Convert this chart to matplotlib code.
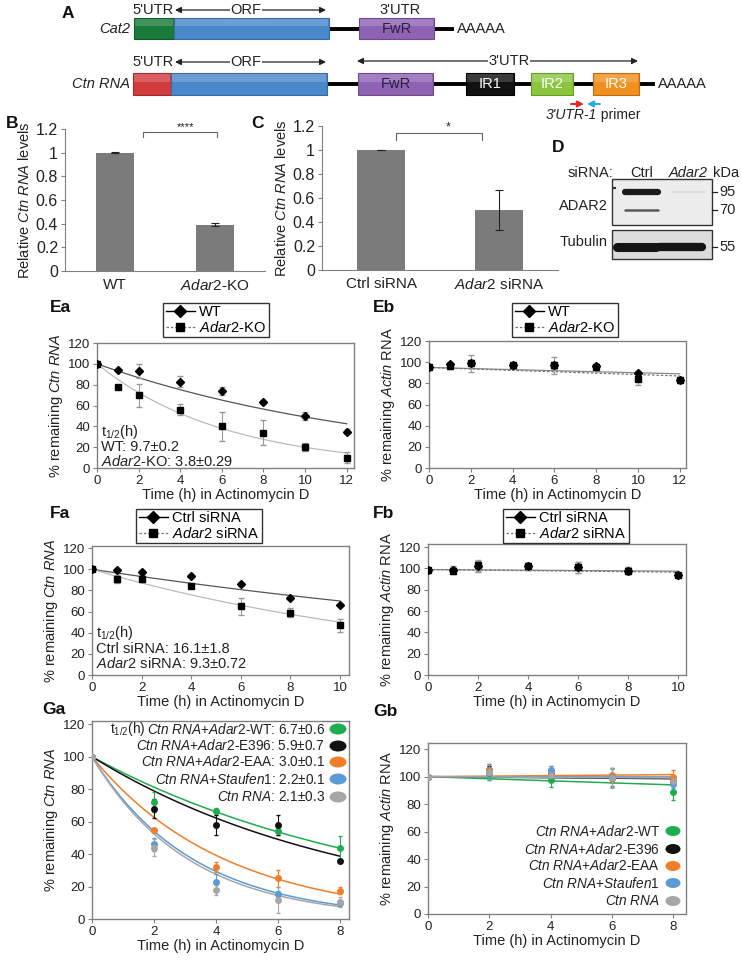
import numpy as np
import matplotlib
matplotlib.use("Agg")
import matplotlib.pyplot as plt
from matplotlib.patches import Rectangle, Ellipse
from matplotlib.lines import Line2D

plt.rcParams['font.family'] = ['Liberation Sans', 'DejaVu Sans']
plt.rcParams['mathtext.fontset'] = 'custom'
plt.rcParams['mathtext.rm'] = 'Liberation Sans'
plt.rcParams['mathtext.it'] = 'Liberation Sans:italic'
plt.rcParams['mathtext.bf'] = 'Liberation Sans:bold'

# ---- data ----
b_labels = ['WT', r'$\it{Adar2}$-KO']
b_vals = [1.0, 0.39]
b_err = [0.005, 0.012]
c_labels = ['Ctrl siRNA', r'$\it{Adar2}$ siRNA']
c_vals = [1.0, 0.50]
c_err = [0.003, 0.17]

t_e = [0, 1, 2, 4, 6, 8, 10, 12]
ea_wt = [100, 94, 93, 83, 74, 63, 50, 35]
ea_wt_err = [0, 1.5, 7, 5, 4, 1.5, 4, 2]
ea_ko = [100, 78, 70, 56, 40, 34, 20, 10]
ea_ko_err = [0, 1, 11, 5, 14, 12, 4, 5]
ea_fit = {'wt': (100, 42.5), 'ko': (100, 14.4)}

eb_wt = [95, 98, 99, 97, 97, 96, 90, 83]
eb_wt_err = [0, 2, 3, 2, 3, 2, 2, 2]
eb_ko = [95, 96, 99, 97, 97, 95, 84, 83]
eb_ko_err = [0, 2, 8, 2, 8, 3, 6, 3]
eb_fit = {'wt': (95, 89), 'ko': (95, 87)}

t_f = [0, 1, 2, 4, 6, 8, 10]
fa_ctrl = [100, 99, 97, 94, 86, 73, 66]
fa_ctrl_err = [0, 1, 2, 1, 1.5, 1.5, 1]
fa_kd = [100, 91, 91, 84, 65, 59, 47]
fa_kd_err = [0, 4, 3, 2, 8, 4, 6]
fa_fit = {'ctrl': (100, 70), 'kd': (100, 50)}

fb_ctrl = [99, 99, 102, 102, 101, 98, 94]
fb_ctrl_err = [0, 3, 5, 3, 5, 3, 2]
fb_kd = [99, 98, 103, 102, 101, 98, 94]
fb_kd_err = [0, 3, 5, 3, 5, 3, 2]
fb_fit = {'ctrl': (99, 97.5), 'kd': (99, 96.5)}

t_g = [0, 2, 4, 6, 8]
g_names = ['wt', 'e396', 'eaa', 'stau', 'ctn']
g_colors = {'wt': '#1fae4f', 'e396': '#111111', 'eaa': '#f07d2a', 'stau': '#5b9bd5', 'ctn': '#a6a6a6'}
ga_vals = {'wt': [100, 72, 66.5, 54, 44], 'e396': [100, 68, 58, 58, 36],
           'eaa': [100, 55, 32, 25, 17.5], 'stau': [100, 46, 23, 15.5, 10],
           'ctn': [100, 44, 18, 12, 10.5]}
ga_err = {'wt': [0, 6, 2, 2, 7], 'e396': [0, 6, 6, 6, 1], 'eaa': [0, 1, 3, 5, 2],
          'stau': [0, 4, 5, 2, 2], 'ctn': [0, 5, 3, 8, 3]}
ga_fit_end = {'wt': 43.6, 'e396': 38.7, 'eaa': 15.4, 'stau': 8.6, 'ctn': 7.6}
ga_legend = [r'$\it{Ctn\ RNA}$+$\it{Adar2}$-WT: 6.7±0.6',
             r'$\it{Ctn\ RNA}$+$\it{Adar2}$-E396: 5.9±0.7',
             r'$\it{Ctn\ RNA}$+$\it{Adar2}$-EAA: 3.0±0.1',
             r'$\it{Ctn\ RNA}$+$\it{Staufen1}$: 2.2±0.1',
             r'$\it{Ctn\ RNA}$: 2.1±0.3']
gb_vals = {'wt': [100, 102.5, 97.5, 99.5, 89], 'e396': [100, 105, 102, 99, 97],
           'eaa': [100, 105, 104, 101, 99.5], 'stau': [100, 103.5, 105, 99.5, 95],
           'ctn': [100, 103.5, 101, 99, 97]}
gb_err = {'wt': [0, 5, 5, 6, 6], 'e396': [0, 3, 3, 3, 2], 'eaa': [0, 4, 4, 5, 5],
          'stau': [0, 6, 3, 7, 3], 'ctn': [0, 3, 3, 7, 3]}
gb_fit_end = {'wt': 94, 'e396': 98.5, 'eaa': 101.5, 'stau': 99.8, 'ctn': 99}
gb_legend = [r'$\it{Ctn\ RNA}$+$\it{Adar2}$-WT', r'$\it{Ctn\ RNA}$+$\it{Adar2}$-E396',
             r'$\it{Ctn\ RNA}$+$\it{Adar2}$-EAA', r'$\it{Ctn\ RNA}$+$\it{Staufen1}$',
             r'$\it{Ctn\ RNA}$']

W, H = 742, 960
fig = plt.figure(figsize=(W / 100, H / 100), dpi=100)
TXT = '#222222'
SP = '#808080'


def px_axes(l, t, r, b):
    return fig.add_axes([l / W, 1 - b / H, (r - l) / W, (b - t) / H])


def fit_curve(ax, tmax, start, end, **kw):
    tt = np.linspace(0, tmax, 120)
    ax.plot(tt, start * (end / start) ** (tt / tmax), **kw)


def style_decay(ax, xlim, xticks, ytop, ylabel):
    ax.set_xlim(0, xlim)
    ax.set_ylim(0, ytop)
    ax.set_xticks(xticks)
    ax.set_yticks(range(0, 121, 20))
    for s in ax.spines.values():
        s.set_color(SP)
        s.set_linewidth(1)
    ax.tick_params(direction='out', length=3, width=0.8, color=SP,
                   labelsize=9.5, labelcolor=TXT, pad=2)
    ax.set_xlabel('Time (h) in Actinomycin D', fontsize=10.5, color=TXT, labelpad=1)
    ax.set_ylabel(ylabel, fontsize=10.5, color=TXT, labelpad=2)


# ---- B ----
axB = px_axes(65, 129, 265, 271)
axC = px_axes(322, 126, 558, 270)
for ax, vals, errs, labs, w in [(axB, b_vals, b_err, b_labels, 0.38),
                                (axC, c_vals, c_err, c_labels, 0.40)]:
    x = np.arange(len(vals))
    ax.bar(x, vals, width=w, color='#7b7b7b', zorder=2)
    ax.errorbar(x, vals, yerr=errs, fmt='none', ecolor='#222', elinewidth=0.8,
                capsize=3, capthick=0.8, zorder=3)
    ax.set_xlim(-0.5, 1.5)
    ax.set_ylim(0, 1.2)
    ax.set_yticks([0, 0.2, 0.4, 0.6, 0.8, 1.0, 1.2])
    ax.set_yticklabels(['0', '0.2', '0.4', '0.6', '0.8', '1', '1.2'])
    ax.set_xticks(x)
    ax.set_xticklabels(labs)
    ax.spines['top'].set_visible(False)
    ax.spines['right'].set_visible(False)
    ax.spines['left'].set_color(SP)
    ax.spines['bottom'].set_color(SP)
    ax.tick_params(axis='y', direction='out', length=3, color=SP, labelsize=11.5,
                   labelcolor=TXT, pad=2)
    ax.tick_params(axis='x', length=0, labelsize=11, labelcolor=TXT, pad=5)
    ax.set_ylabel(r'Relative $\it{Ctn\ RNA}$ levels', fontsize=10.5, color=TXT, labelpad=3)

# ---- Ea ----
axEa = px_axes(97, 343, 354, 468)
style_decay(axEa, 12.35, range(0, 13, 2), 120, r'% remaining $\it{Ctn\ RNA}$')
fit_curve(axEa, 12, *ea_fit['wt'], color='#555555', lw=0.9, zorder=1)
fit_curve(axEa, 12, *ea_fit['ko'], color='#bbbbbb', lw=0.9, zorder=1)
axEa.errorbar(t_e, ea_wt, yerr=ea_wt_err, fmt='D', color='black', ms=4.5,
              ecolor='#999999', elinewidth=0.8, capsize=2, zorder=3)
axEa.errorbar(t_e, ea_ko, yerr=ea_ko_err, fmt='s', color='black', ms=4.5,
              ecolor='#999999', elinewidth=0.8, capsize=2, zorder=3)

# ---- Eb ----
axEb = px_axes(429, 341, 686, 468)
style_decay(axEb, 12.3, range(0, 13, 2), 120, r'% remaining $\it{Actin}$ RNA')
fit_curve(axEb, 12, *eb_fit['wt'], color='#888888', lw=0.9, zorder=1)
fit_curve(axEb, 12, *eb_fit['ko'], color='#777777', lw=0.9, ls=(0, (2, 1.5)), zorder=1)
axEb.errorbar(t_e, eb_wt, yerr=eb_wt_err, fmt='D', color='black', ms=4.5,
              ecolor='#999999', elinewidth=0.8, capsize=2, zorder=3)
axEb.errorbar(t_e, eb_ko, yerr=eb_ko_err, fmt='s', color='black', ms=4.5,
              ecolor='#999999', elinewidth=0.8, capsize=2, zorder=3)

# ---- Fa ----
axFa = px_axes(92, 546, 349, 675)
style_decay(axFa, 10.36, range(0, 11, 2), 122, r'% remaining $\it{Ctn\ RNA}$')
fit_curve(axFa, 10, *fa_fit['ctrl'], color='#555555', lw=0.9, zorder=1)
fit_curve(axFa, 10, *fa_fit['kd'], color='#bbbbbb', lw=0.9, zorder=1)
axFa.errorbar(t_f, fa_ctrl, yerr=fa_ctrl_err, fmt='D', color='black', ms=4.5,
              ecolor='#999999', elinewidth=0.8, capsize=2, zorder=3)
axFa.errorbar(t_f, fa_kd, yerr=fa_kd_err, fmt='s', color='black', ms=4.5,
              ecolor='#999999', elinewidth=0.8, capsize=2, zorder=3)

# ---- Fb ----
axFb = px_axes(428, 544, 686, 675)
style_decay(axFb, 10.3, range(0, 11, 2), 123, r'% remaining $\it{Actin}$ RNA')
fit_curve(axFb, 10, *fb_fit['ctrl'], color='#888888', lw=0.9, zorder=1)
fit_curve(axFb, 10, *fb_fit['kd'], color='#777777', lw=0.9, ls=(0, (2, 1.5)), zorder=1)
axFb.errorbar(t_f, fb_ctrl, yerr=fb_ctrl_err, fmt='D', color='black', ms=4.5,
              ecolor='#999999', elinewidth=0.8, capsize=2, zorder=3)
axFb.errorbar(t_f, fb_kd, yerr=fb_kd_err, fmt='s', color='black', ms=4.5,
              ecolor='#999999', elinewidth=0.8, capsize=2, zorder=3)

# ---- Ga / Gb ----
axGa = px_axes(92, 721, 349, 919)
style_decay(axGa, 8.29, range(0, 9, 2), 122, r'% remaining $\it{Ctn\ RNA}$')
axGb = px_axes(428, 743, 686, 914)
style_decay(axGb, 8.42, range(0, 9, 2), 124.5, r'% remaining $\it{Actin}$ RNA')
for k in g_names:
    c = g_colors[k]
    fit_curve(axGa, 8, 100, ga_fit_end[k], color=c, lw=1.1, zorder=1)
    axGa.errorbar(t_g, ga_vals[k], yerr=ga_err[k], fmt='o', color=c, ms=4,
                  elinewidth=0.8, capsize=1.5, zorder=3)
    fit_curve(axGb, 8, 100, gb_fit_end[k], color=c, lw=1.1, zorder=1)
    axGb.errorbar(t_g, gb_vals[k], yerr=gb_err[k], fmt='o', color=c, ms=4,
                  elinewidth=0.8, capsize=1.5, zorder=3)

# ---- legends E/F ----
def two_legend(lab1, lab2, cx, cy, dashed):
    h1 = Line2D([], [], color='black', marker='D', ms=6, lw=1)
    h2 = Line2D([], [], color='#777777', ls=(0, (2, 1.5)) if True else '-', marker='s',
                mfc='black', mec='black', ms=5.5, lw=0.9)
    lg = fig.legend([h1, h2], [lab1, lab2], loc='center',
                    bbox_to_anchor=(cx / W, 1 - cy / H), fontsize=10.5,
                    frameon=True, fancybox=False, edgecolor='black', borderpad=0.15,
                    handlelength=2.0, handletextpad=0.3, labelspacing=0.05,
                    borderaxespad=0)
    lg.get_frame().set_linewidth(1.0)


two_legend('WT', r'$\it{Adar2}$-KO', 216, 320, False)
two_legend('WT', r'$\it{Adar2}$-KO', 565, 320, True)
two_legend('Ctrl siRNA', r'$\it{Adar2}$ siRNA', 199, 526, False)
two_legend('Ctrl siRNA', r'$\it{Adar2}$ siRNA', 566, 526, True)

# ---- overlay (pixel coords) ----
ov = fig.add_axes([0, 0, 1, 1])
ov.set_xlim(0, W)
ov.set_ylim(H, 0)
ov.axis('off')

# panel letters
for s, x, y in [('A', 62, 13), ('B', 6, 123), ('C', 251, 123), ('D', 552, 147),
                ('Ea', 50, 308), ('Eb', 373, 308), ('Fa', 50, 513), ('Fb', 373, 513),
                ('Ga', 42, 710), ('Gb', 373, 712)]:
    ov.text(x, y, s, fontsize=12.5, fontweight='bold', va='center', ha='left', color='#111')


def gene_box(x0, x1, y0, y1, fc, ec, label=None, tc='white'):
    ov.add_patch(Rectangle((x0, y0), x1 - x0, y1 - y0, facecolor=fc, edgecolor=ec, lw=0.8, zorder=3))
    ov.add_patch(Rectangle((x0 + 1, y0 + 1), x1 - x0 - 2, (y1 - y0) * 0.35,
                           facecolor='white', alpha=0.18, lw=0, zorder=4))
    if label:
        ov.text((x0 + x1) / 2, (y0 + y1) / 2 + 0.5, label, ha='center', va='center',
                fontsize=10.5, color=tc, zorder=5)


def dbl_arrow(x0, x1, y, label, cx):
    ov.annotate('', xy=(x1, y), xytext=(x0, y),
                arrowprops=dict(arrowstyle='<|-|>', lw=0.9, color='#222',
                                mutation_scale=9, shrinkA=0, shrinkB=0))
    ov.text(cx, y, label, ha='center', va='center', fontsize=10.5, color='#222',
            bbox=dict(facecolor='white', edgecolor='none', pad=0.5))


# Cat2 row
ov.plot([329, 452], [29, 29], color='black', lw=2.8, zorder=2)
gene_box(134, 174, 18, 39, '#1a7a3a', '#125a2a')
gene_box(174, 329, 18, 39, '#4a88cc', '#3a6aa0')
gene_box(359, 434, 18, 39, '#8e63b4', '#6c4a8c', 'FwR', '#2b1f3e')
ov.text(457, 29, 'AAAAA', ha='left', va='center', fontsize=10.5, color='#222')
ov.text(130, 29, 'Cat2', ha='right', va='center', fontsize=10.5, style='italic', color='#222')
ov.text(153, 10, "5'UTR", ha='center', va='center', fontsize=10.5, color='#222')
dbl_arrow(175, 326, 10, 'ORF', 246)
ov.text(400, 10, "3'UTR", ha='center', va='center', fontsize=10.5, color='#222')

# Ctn RNA row
ov.plot([326, 653], [84, 84], color='black', lw=2.8, zorder=2)
gene_box(133, 171, 73, 95, '#d23a3c', '#a02a2c')
gene_box(171, 327, 73, 95, '#4a88cc', '#3a6aa0')
gene_box(358, 433, 73, 95, '#8e63b4', '#6c4a8c', 'FwR', '#2b1f3e')
gene_box(466, 514, 73, 95, '#111111', '#000000', 'IR1', 'white')
gene_box(531, 573, 73, 95, '#8cc63f', '#6a9a2a', 'IR2', 'white')
gene_box(593, 639, 73, 95, '#f0901e', '#c06a10', 'IR3', 'white')
ov.text(658, 84, 'AAAAA', ha='left', va='center', fontsize=10.5, color='#222')
ov.text(130, 84, 'Ctn RNA', ha='right', va='center', fontsize=10.5, style='italic', color='#222')
ov.text(153, 62, "5'UTR", ha='center', va='center', fontsize=10.5, color='#222')
dbl_arrow(175, 326, 62, 'ORF', 246)
dbl_arrow(357, 638, 61, "3'UTR", 509)

# primer arrows
ov.annotate('', xy=(584, 104), xytext=(571, 104),
            arrowprops=dict(arrowstyle='-|>', lw=1.4, color='#e8262a', mutation_scale=9,
                            shrinkA=0, shrinkB=0))
ov.annotate('', xy=(587, 104), xytext=(600, 104),
            arrowprops=dict(arrowstyle='-|>', lw=1.4, color='#27aae1', mutation_scale=9,
                            shrinkA=0, shrinkB=0))
ov.text(597, 115, "3'UTR-1", ha='right', va='center', fontsize=10, style='italic', color='#222')
ov.text(597, 115, " primer", ha='left', va='center', fontsize=10, color='#222')

# significance brackets
ov.plot([143, 143, 217, 217], [137, 132, 132, 137], color='#666', lw=0.8)
ov.text(186, 127, '****', ha='center', va='center', fontsize=8, color='#222')
ov.plot([396, 396, 482, 482], [140, 133, 133, 140], color='#666', lw=0.8)
ov.text(448, 127, '*', ha='center', va='center', fontsize=9, color='#222')

# D western blot
ov.text(613, 173, 'siRNA:', ha='right', va='center', fontsize=10.5, color='#222')
ov.text(642, 173, 'Ctrl', ha='center', va='center', fontsize=10.5, color='#222')
ov.text(688, 173, 'Adar2', ha='center', va='center', fontsize=10.5, style='italic', color='#222')
ov.text(713, 173, 'kDa', ha='left', va='center', fontsize=10.5, color='#222')
ov.add_patch(Rectangle((612, 179), 100, 46, facecolor='#ececec', edgecolor='#333', lw=1))
ov.add_patch(Rectangle((612, 230), 100, 29, facecolor='#dcdcdc', edgecolor='#333', lw=1))
ov.plot([625, 658], [192, 192], color='#1a1a1a', lw=4.5, solid_capstyle='round')
ov.plot([625, 658], [210, 210], color='#5a5a5a', lw=1.8, solid_capstyle='round')
ov.plot([672, 705], [192, 192], color='#dddddd', lw=1.5, solid_capstyle='round')
ov.plot([617, 656], [247, 247], color='#141414', lw=6.5, solid_capstyle='round')
ov.plot([659, 702], [247, 247], color='#141414', lw=6.0, solid_capstyle='round')
ov.plot([613, 615], [188, 188], color='#333', lw=1.5)
for yk, lab in [(192, '95'), (210, '70'), (247, '55')]:
    ov.plot([712, 717], [yk, yk], color='#222', lw=0.9)
    ov.text(719, yk, lab, ha='left', va='center', fontsize=10.5, color='#222')
ov.text(608, 206, 'ADAR2', ha='right', va='center', fontsize=10.5, color='#222')
ov.text(608, 242, 'Tubulin', ha='right', va='center', fontsize=10.5, color='#222')

# half-life annotations
ov.text(101, 432, r't$_{\mathrm{1/2}}$(h)', ha='left', va='center', fontsize=10.5, color=TXT)
ov.text(101, 447, 'WT: 9.7±0.2', ha='left', va='center', fontsize=10.5, color=TXT)
ov.text(101, 461, r'$\it{Adar2}$-KO: 3.8±0.29', ha='left', va='center', fontsize=10.5, color=TXT)
ov.text(96, 633, r't$_{\mathrm{1/2}}$(h)', ha='left', va='center', fontsize=10.5, color=TXT)
ov.text(96, 649, 'Ctrl siRNA: 16.1±1.8', ha='left', va='center', fontsize=10.5, color=TXT)
ov.text(96, 664, r'$\it{Adar2}$ siRNA: 9.3±0.72', ha='left', va='center', fontsize=10.5, color=TXT)

# G legends
ov.text(110, 729, r't$_{\mathrm{1/2}}$(h)', ha='left', va='center', fontsize=9.8, color=TXT)
ga_rows = [729, 746, 762, 779, 797]
for k, lab, y in zip(g_names, ga_legend, ga_rows):
    ov.text(325, y, lab, ha='right', va='center', fontsize=9.8, color=TXT)
    ov.add_patch(Ellipse((338, y), 17, 11, facecolor=g_colors[k], edgecolor='none'))
gb_rows = [831, 849, 866, 883, 901]
for k, lab, y in zip(g_names, gb_legend, gb_rows):
    ov.text(660, y, lab, ha='right', va='center', fontsize=9.8, color=TXT)
    ov.add_patch(Ellipse((673, y), 15, 10, facecolor=g_colors[k], edgecolor='none'))

fig.savefig('out.png', dpi=100)
